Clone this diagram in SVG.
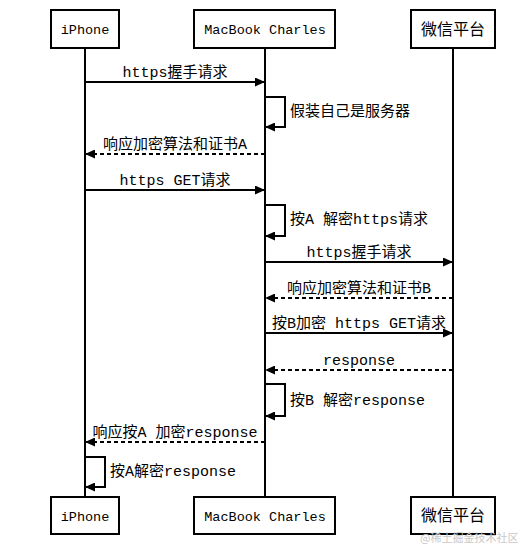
<svg xmlns="http://www.w3.org/2000/svg" width="529" height="546" viewBox="0 0 529 546">
<style>
.box{fill:#fff;stroke:#000;stroke-width:2}
.life{stroke:#000;stroke-width:2}
.msg{fill:none;stroke:#000;stroke-width:2;marker-end:url(#ah)}
.dash{stroke-dasharray:4 3}
text{font-family:"Liberation Mono","Noto Sans CJK SC",monospace;font-size:15px;fill:#000}
.p{font-size:13.5px;text-anchor:middle}
.pc{font-size:16px;text-anchor:middle}
.m{text-anchor:middle}
.wm{font-family:"Noto Sans CJK SC",sans-serif;font-size:11px;fill:#c8c8c8}
</style>
<defs>
<marker id="ah" markerUnits="userSpaceOnUse" markerWidth="10" markerHeight="9" refX="10" refY="4.5" orient="auto">
<path d="M0,0 L10,4.5 L0,9 z" fill="#000"/>
</marker>
</defs>
<rect width="529" height="546" fill="#fff"/>
<g id="lifelines">
<line class="life" x1="85" y1="48" x2="85" y2="497"/>
<line class="life" x1="265" y1="48" x2="265" y2="497"/>
<line class="life" x1="453" y1="48" x2="453" y2="497"/>
</g>
<g id="iphone-top"><rect class="box" x="51" y="10" width="68" height="38"/><text class="p" x="85" y="34">iPhone</text></g>
<g id="macbook-top"><rect class="box" x="194" y="10" width="141" height="38"/><text class="p" x="265" y="34">MacBook Charles</text></g>
<g id="wechat-top"><rect class="box" x="411" y="10" width="84" height="38"/><text class="pc" x="453" y="35">微信平台</text></g>
<g id="iphone-bottom"><rect class="box" x="51" y="497" width="68" height="37"/><text class="p" x="85" y="521">iPhone</text></g>
<g id="macbook-bottom"><rect class="box" x="194" y="497" width="141" height="37"/><text class="p" x="265" y="521">MacBook Charles</text></g>
<g id="wechat-bottom"><rect class="box" x="411" y="497" width="84" height="37"/><text class="pc" x="453" y="521">微信平台</text></g>
<g id="connectors">
<line class="msg" x1="85" y1="82" x2="265" y2="82"/>
<path class="msg" d="M265,97 H285 V127 H265"/>
<line class="msg dash" x1="265" y1="154" x2="85" y2="154"/>
<line class="msg" x1="85" y1="190" x2="265" y2="190"/>
<path class="msg" d="M265,205 H285 V236 H265"/>
<line class="msg" x1="265" y1="262" x2="453" y2="262"/>
<line class="msg dash" x1="453" y1="298" x2="265" y2="298"/>
<line class="msg" x1="265" y1="333" x2="453" y2="333"/>
<line class="msg dash" x1="453" y1="370" x2="265" y2="370"/>
<path class="msg" d="M265,384 H285 V416 H265"/>
<line class="msg dash" x1="265" y1="442" x2="85" y2="442"/>
<path class="msg" d="M85,457 H105 V487 H85"/>
</g>
<g id="labels">
<text class="m" x="175" y="77">https握手请求</text>
<text x="290" y="116">假装自己是服务器</text>
<text class="m" x="175" y="149">响应加密算法和证书A</text>
<text class="m" x="175" y="185">https GET请求</text>
<text x="290" y="224">按A 解密https请求</text>
<text class="m" x="359" y="257">https握手请求</text>
<text class="m" x="359" y="293">响应加密算法和证书B</text>
<text class="m" x="359" y="328">按B加密 https GET请求</text>
<text class="m" x="359" y="365">response</text>
<text x="290" y="405">按B 解密response</text>
<text class="m" x="175" y="437">响应按A 加密response</text>
<text x="110" y="476">按A解密response</text>
</g>
<text class="wm" x="420" y="542">@稀土掘金技术社区</text>
</svg>
